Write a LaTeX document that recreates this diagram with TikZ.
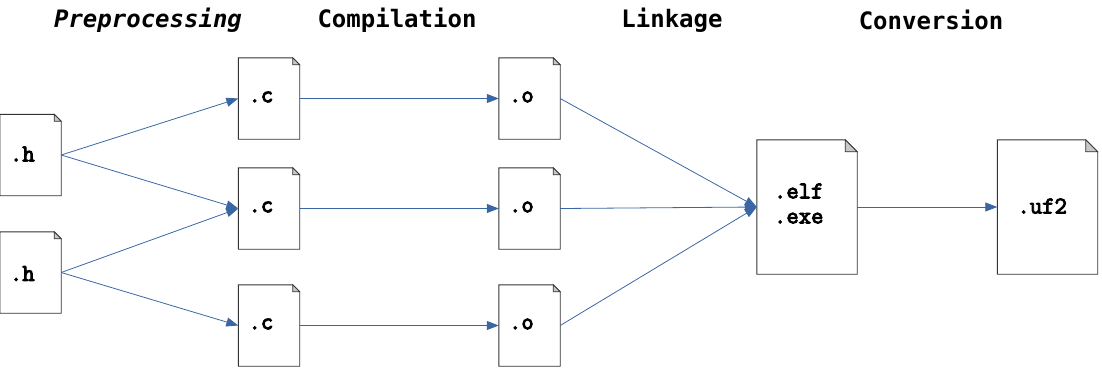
\documentclass[tikz,border=0pt]{standalone}
\usepackage{fontspec}
\newfontfamily\titlefont{DejaVu Sans Mono}
\newfontfamily\labelfont[FakeBold=4]{Latin Modern Mono}
\usetikzlibrary{arrows.meta}
\definecolor{flow}{HTML}{3A67A4}
\definecolor{edge}{HTML}{333333}
\definecolor{fold}{HTML}{C8C8C8}
\tikzset{
  x=1pt, y=-1pt,
  doc/.style={rectangle, draw=none, fill=white, inner sep=0pt},
  smalldoc/.style={doc, minimum width=61pt, minimum height=81pt},
  bigdoc/.style={doc, minimum width=100pt, minimum height=134pt},
  phase/.style={font=\titlefont\bfseries\fontsize{24}{28}\selectfont, inner sep=0pt},
  outline/.style={draw=edge, line width=0.9pt, line join=miter, fill=white},
  dogear/.style={draw=edge, line width=0.7pt, fill=fold},
  link/.style={draw=flow, line width=0.8pt, -{Triangle[length=12pt,width=9pt]}},
  lbl/.style={font=\labelfont\fontsize{24}{25}\selectfont, inner sep=0pt, anchor=west},
}
% folded-corner page outline around a named node
\newcommand\pageframe[2]{%
  \draw[outline] (#1.south west) -- (#1.north west) -- ([xshift=-#2]#1.north east)
    -- ([yshift=-#2]#1.north east) -- (#1.south east) -- cycle;
  \draw[dogear] ([xshift=-#2]#1.north east) -- ([xshift=-#2,yshift=-#2]#1.north east)
    -- ([yshift=-#2]#1.north east) -- cycle;
}
\begin{document}
\begin{tikzpicture}
\useasboundingbox (0,0) rectangle (1102,368);

% phase headings
\node[phase] (tpre) at (148,20) {\itshape Preprocessing};
\node[phase] (tcomp) at (397,20) {Compilation};
\node[phase] (tlink) at (672,20) {Linkage};
\node[phase] (tconv) at (931,20) {Conversion};

% pages
\node[smalldoc] (h1) at (30.5,155) {};
\node[smalldoc] (h2) at (30.5,272.5) {};
\node[smalldoc] (c1) at (269,98.5) {};
\node[smalldoc] (c2) at (269,208.5) {};
\node[smalldoc] (c3) at (269,325.5) {};
\node[smalldoc] (o1) at (529.5,98.5) {};
\node[smalldoc] (o2) at (529.5,208.5) {};
\node[smalldoc] (o3) at (529.5,325.5) {};
\node[bigdoc] (elf) at (807,207) {};
\node[bigdoc] (uf2) at (1047.5,207) {};

\foreach \n in {h1,h2,c1,c2,c3,o1,o2,o3} {\pageframe{\n}{7pt}}
\pageframe{elf}{12pt}
\pageframe{uf2}{12pt}

% page labels
\node[lbl] (lh1) at ([xshift=10pt,yshift=1pt]h1.west) {.h};
\node[lbl] (lh2) at ([xshift=10pt,yshift=-1pt]h2.west) {.h};
\foreach \n in {c1,c2,c3} {\node[lbl] (l\n) at ([xshift=10pt,yshift=1.5pt]\n.west) {.c};}
\foreach \n in {o1,o2,o3} {\node[lbl] (l\n) at ([xshift=10pt,yshift=1.5pt]\n.west) {.o};}
\node[lbl, align=left] (lelf) at ([xshift=17pt,yshift=3.5pt]elf.west) {.elf\\.exe};
\node[lbl] (luf2) at ([xshift=20pt,yshift=1pt]uf2.west) {.uf2};

% connectors
\draw[link] (h1.east) -- (c1.west);
\draw[link] (h1.east) -- (c2.west);
\draw[link] (h2.east) -- (c2.west);
\draw[link] (h2.east) -- (c3.west);
\draw[link] (c1.east) -- (o1.west);
\draw[link] (c2.east) -- (o2.west);
\draw[link] (c3.east) -- (o3.west);
\draw[link] (o1.east) -- (elf.west);
\draw[link] (o2.east) -- (elf.west);
\draw[link] (o3.east) -- (elf.west);
\draw[link] (elf.east) -- (uf2.west);
\end{tikzpicture}
\end{document}
